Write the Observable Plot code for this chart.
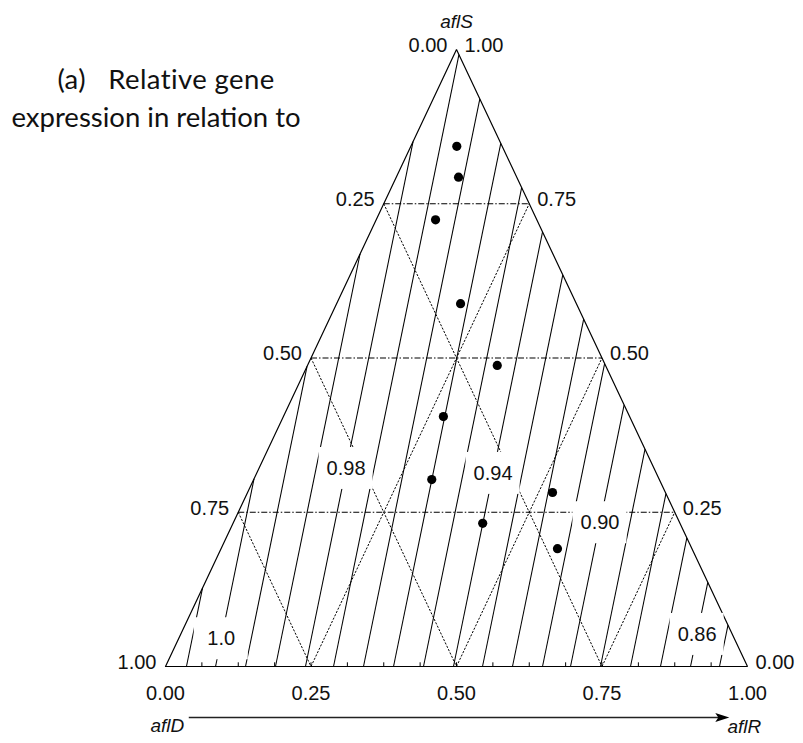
<!DOCTYPE html>
<html>
<head>
<meta charset="utf-8">
<script src="https://cdn.jsdelivr.net/npm/d3@7"></script>
<script src="https://cdn.jsdelivr.net/npm/@observablehq/plot@0.6"></script>
<style>
  body { margin: 0; background: #fff; }
  #wrap { position: relative; width: 803px; height: 743px; }
  .caption {
    position: absolute; width: 400px; text-align: center;
    font-family: Lato, "Open Sans", sans-serif; font-size: 27.5px; line-height: 30px;
    color: #111; white-space: pre;
  }
  .caption.first { letter-spacing: 0.4px; }
</style>
</head>
<body>
<div id="wrap">
  <div id="chart"></div>
  <div class="caption first" style="left:-34px; top:64px">(a)   Relative gene</div>
  <div class="caption" style="left:-44px; top:102px">expression in relation to</div>
</div>
<script>
// Mixture compositions of the ten observations (fractions sum to 1)
const aflD = [0.078, 0.100, 0.174, 0.199, 0.186, 0.320, 0.391, 0.194, 0.339, 0.231];
const aflR = [0.079, 0.107, 0.102, 0.213, 0.326, 0.275, 0.306, 0.524, 0.429, 0.578];
const aflS = [0.843, 0.793, 0.724, 0.588, 0.488, 0.405, 0.303, 0.282, 0.232, 0.191];

// Axis ticks and reference grid
const tickValues = [0, 0.25, 0.5, 0.75, 1];
const gridValues = [0.25, 0.5, 0.75];
const minorTicks = [1, 2, 3, 4, 5, 6, 7, 8, 9, 10, 11, 12, 13, 14, 15].map(k => k / 16);

// Response contours: aflR fraction where each line meets the aflD–aflR base,
// and how far aflR shifts per unit of aflS along a contour
const contourBase = [0.036, 0.086, 0.1375, 0.189, 0.2405, 0.2887, 0.3402, 0.3918, 0.4433, 0.4948,
                     0.5447, 0.5962, 0.6478, 0.6959, 0.7474, 0.799, 0.8505, 0.9021, 0.9519];
const contourTilt = 0.2827;

// Labelled contour levels: the contour they sit on and the aflS fraction of the label
const contourLabelText = ["1.0", "0.98", "0.94", "0.90", "0.86"];
const contourLabelLine = [1, 4, 9, 13, 17];
const contourLabelAt = [0.045, 0.321, 0.313, 0.233, 0.052];

// ternary (aflR, aflS) -> horizontal position of the triangle
const tx = (r, s) => r + s / 2;
const fmt = d3.format(".2f");

const contours = contourBase.map(c => {
  const sTop = c < contourTilt ? c / contourTilt : (1 - c) / (1 - contourTilt);
  return { x1: tx(c, 0), y1: 0, x2: tx(c - contourTilt * sTop, sTop), y2: sTop };
});

const grid = gridValues.flatMap(v => [
  { kind: "S", x1: tx(0, v), y1: v, x2: tx(1 - v, v), y2: v },
  { kind: "D", x1: tx(0, 1 - v), y1: 1 - v, x2: tx(1 - v, 0), y2: 0 },
  { kind: "R", x1: tx(v, 0), y1: 0, x2: tx(v, 1 - v), y2: 1 - v }
]);

const contourLabels = contourLabelText.map((text, i) => {
  const c = contourBase[contourLabelLine[i]], s = contourLabelAt[i];
  return { text, x: tx(c - contourTilt * s, s), y: s };
});

const triangle = [[0, 0], [1, 0], [0, 1], [0, 0]]; // (aflR, aflS) of the corners

const points = aflS.map((s, i) => ({ x: tx(aflR[i], s), y: s }));

// stealth arrowhead pointing right
const arrowHead = {
  draw(ctx) {
    ctx.moveTo(7, 0);
    ctx.lineTo(-7, -4.5);
    ctx.lineTo(-4, 0);
    ctx.lineTo(-7, 4.5);
    ctx.closePath();
  }
};

const chart = Plot.plot({
  width: 803,
  height: 743,
  margin: 0,
  x: { domain: [0, 1], range: [165, 747], axis: null },
  y: { domain: [0, 1], range: [666, 49], axis: null },
  style: { fontFamily: "'Liberation Sans', Arial, sans-serif", background: "white", color: "#111" },
  marks: [
    // grid: constant aflS dash-dot, the other two dotted
    Plot.link(grid.filter(d => d.kind === "S"), {
      x1: "x1", y1: "y1", x2: "x2", y2: "y2",
      stroke: "black", strokeWidth: 1.1, strokeDasharray: "6,2,1.5,2"
    }),
    Plot.link(grid.filter(d => d.kind !== "S"), {
      x1: "x1", y1: "y1", x2: "x2", y2: "y2",
      stroke: "black", strokeWidth: 1, strokeDasharray: "2.2,1.5"
    }),
    // contour lines
    Plot.link(contours, {
      x1: "x1", y1: "y1", x2: "x2", y2: "y2",
      stroke: "black", strokeWidth: 1.05
    }),
    // triangle outline
    Plot.line(triangle, {
      x: d => tx(d[0], d[1]), y: d => d[1],
      stroke: "black", strokeWidth: 1.2, strokeLinejoin: "miter"
    }),
    // minor ticks along the base
    Plot.ruleX(minorTicks, { x: d => d, y1: 0, y2: 0.006, stroke: "black", strokeWidth: 1 }),
    // white boxes behind the contour labels
    Plot.rect(contourLabels, {
      x1: "x", x2: "x", y1: "y", y2: "y",
      insetLeft: -27, insetRight: -27, insetTop: -21, insetBottom: -21,
      fill: "white"
    }),
    Plot.text(contourLabels, { x: "x", y: "y", text: "text", fontSize: 20, fill: "#111" }),
    // observations
    Plot.dot(points, { x: "x", y: "y", r: 4.6, fill: "black", stroke: "none" }),
    // edge scales: aflD on the left side, aflS on the right side, aflR along the base
    Plot.text(tickValues, {
      x: s => tx(0, s), y: s => s, text: s => fmt(1 - s),
      textAnchor: "end", dx: -9, dy: -4, fontSize: 20, fill: "#111"
    }),
    Plot.text(tickValues, {
      x: s => tx(1 - s, s), y: s => s, text: s => fmt(s),
      textAnchor: "start", dx: 8, dy: -4, fontSize: 20, fill: "#111"
    }),
    Plot.text(tickValues, {
      x: r => tx(r, 0), y: 0, text: r => fmt(r),
      dy: 27, fontSize: 20, fill: "#111"
    }),
    // component names
    Plot.text(["aflS"], { x: 0.5, y: 1, text: d => d, dy: -28, fontSize: 19, fontStyle: "italic", fill: "#111" }),
    Plot.text(["aflD"], { x: 0, y: 0, text: d => d, textAnchor: "start", dx: -15, dy: 59, fontSize: 19, fontStyle: "italic", fill: "#111" }),
    Plot.text(["aflR"], { x: 1, y: 0, text: d => d, textAnchor: "start", dx: -20, dy: 60, fontSize: 19, fontStyle: "italic", fill: "#111" }),
    // direction arrow from aflD to aflR
    Plot.link([0], { x1: 0.04, x2: 0.955, y1: 0, y2: 0, dy: 51, stroke: "#222", strokeWidth: 1.5 }),
    Plot.dot([0], { x: 0.955, y: 0, dx: 1, dy: 51, symbol: arrowHead, r: 5, fill: "black", stroke: "none" })
  ]
});

document.getElementById("chart").appendChild(chart);
</script>
</body>
</html>
